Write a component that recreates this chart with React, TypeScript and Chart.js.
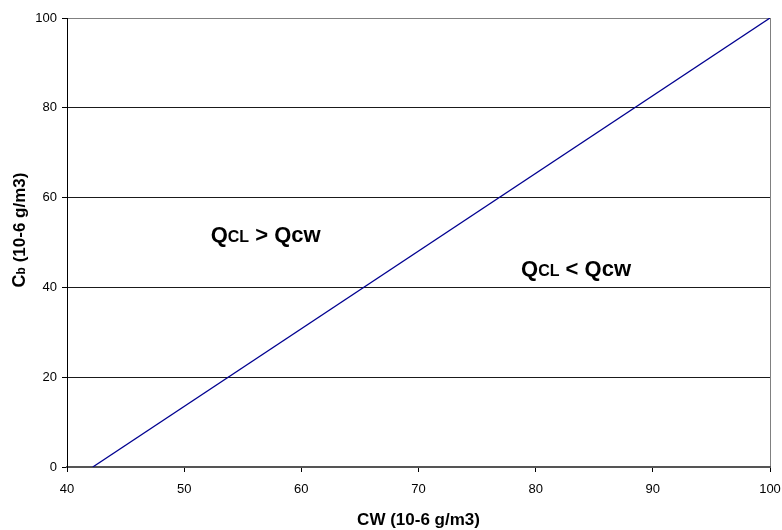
import React, { useEffect, useRef } from "react";
import { Chart, registerables } from "chart.js";

Chart.register(...registerables);

const lineX: number[] = [42.2, 100];
const lineY: number[] = [0, 100];
const xTicks: number[] = [40, 50, 60, 70, 80, 90, 100];
const yTicks: number[] = [0, 20, 40, 60, 80, 100];
const xTitle = "CW (10-6 g/m3)";
const yTitleMain = "C";
const yTitleSub = "b";
const yTitleRest = " (10-6 g/m3)";
const regionLabels = [
  { x: 52.26, y: 50.2, op: ">" },
  { x: 78.75, y: 42.6, op: "<" },
];

const FONT = "'Liberation Sans', Arial, sans-serif";

const textPlugin = {
  id: "customText",
  afterDraw(chart: any) {
    const ctx = chart.ctx as CanvasRenderingContext2D;
    const xs = chart.scales.x;
    const ys = chart.scales.y;
    const area = chart.chartArea;
    ctx.save();
    ctx.fillStyle = "#000";
    ctx.textBaseline = "alphabetic";
    ctx.textAlign = "left";
    for (const lab of regionLabels) {
      let px = xs.getPixelForValue(lab.x);
      const py = ys.getPixelForValue(lab.y);
      const parts: [string, string][] = [
        ["Q", `bold 22px ${FONT}`],
        ["CL", `bold 16px ${FONT}`],
        [` ${lab.op} Q`, `bold 22px ${FONT}`],
        ["cw", `bold 22px ${FONT}`],
      ];
      for (const [t, f] of parts) {
        ctx.font = f;
        ctx.fillText(t, px, py);
        px += ctx.measureText(t).width;
      }
    }
    ctx.font = `bold 17px ${FONT}`;
    ctx.textAlign = "center";
    ctx.textBaseline = "middle";
    ctx.fillText(xTitle, (area.left + area.right) / 2, 520);
    ctx.save();
    ctx.translate(20, 230);
    ctx.rotate(-Math.PI / 2);
    ctx.textAlign = "left";
    ctx.textBaseline = "middle";
    const yparts: [string, string][] = [
      [yTitleMain, `bold 18px ${FONT}`],
      [yTitleSub, `bold 12px ${FONT}`],
      [yTitleRest, `bold 17px ${FONT}`],
    ];
    let total = 0;
    for (const [t, f] of yparts) {
      ctx.font = f;
      total += ctx.measureText(t).width;
    }
    let cx = -total / 2;
    for (const [t, f] of yparts) {
      ctx.font = f;
      ctx.fillText(t, cx, t === yTitleSub ? 2 : 0);
      cx += ctx.measureText(t).width;
    }
    ctx.restore();
    ctx.restore();
  },
};

export default function App() {
  const ref = useRef<HTMLCanvasElement | null>(null);
  useEffect(() => {
    if (!ref.current) return;
    const chart = new Chart(ref.current, {
      type: "scatter",
      data: {
        datasets: [
          {
            data: lineX.map((x, i) => ({ x, y: lineY[i] })),
            showLine: true,
            borderColor: "#000090",
            borderWidth: 1.3,
            pointRadius: 0,
            fill: false,
          },
        ],
      },
      options: {
        animation: false,
        responsive: true,
        maintainAspectRatio: false,
        layout: { padding: { top: 18, right: 12, left: 0, bottom: 0 } },
        plugins: { legend: { display: false }, tooltip: { enabled: false } },
        scales: {
          x: {
            type: "linear",
            min: 40,
            max: 100,
            afterBuildTicks: (s: any) => {
              s.ticks = xTicks.map((v) => ({ value: v }));
            },
            afterFit: (s: any) => {
              s.height = 63;
              s.paddingRight = 0;
              s.paddingLeft = 0;
            },
            ticks: {
              color: "#000",
              font: { family: FONT, size: 13 },
              padding: 10,
              maxRotation: 0,
            },
            grid: {
              drawOnChartArea: true,
              color: (c: any) => (c.tick && c.tick.value === 100 ? "#808080" : "rgba(0,0,0,0)"),
              tickColor: "#000",
              tickLength: 5,
            },
            border: { color: "#555", width: 2 },
          },
          y: {
            type: "linear",
            min: 0,
            max: 100,
            afterBuildTicks: (s: any) => {
              s.ticks = yTicks.map((v) => ({ value: v }));
            },
            afterFit: (s: any) => {
              s.width = 67;
            },
            ticks: {
              color: "#000",
              font: { family: FONT, size: 13 },
              padding: 5,
            },
            grid: {
              color: (c: any) => (c.tick && c.tick.value === 100 ? "#808080" : "#1a1a1a"),
              tickColor: "#000",
              tickLength: 5,
            },
            border: { color: "#000", width: 1 },
          },
        },
      },
      plugins: [textPlugin],
    });
    return () => chart.destroy();
  }, []);
  return (
    <div style={{ position: "absolute", left: 0, top: 0, width: 782, height: 530, background: "#fff" }}>
      <canvas ref={ref} />
    </div>
  );
}
